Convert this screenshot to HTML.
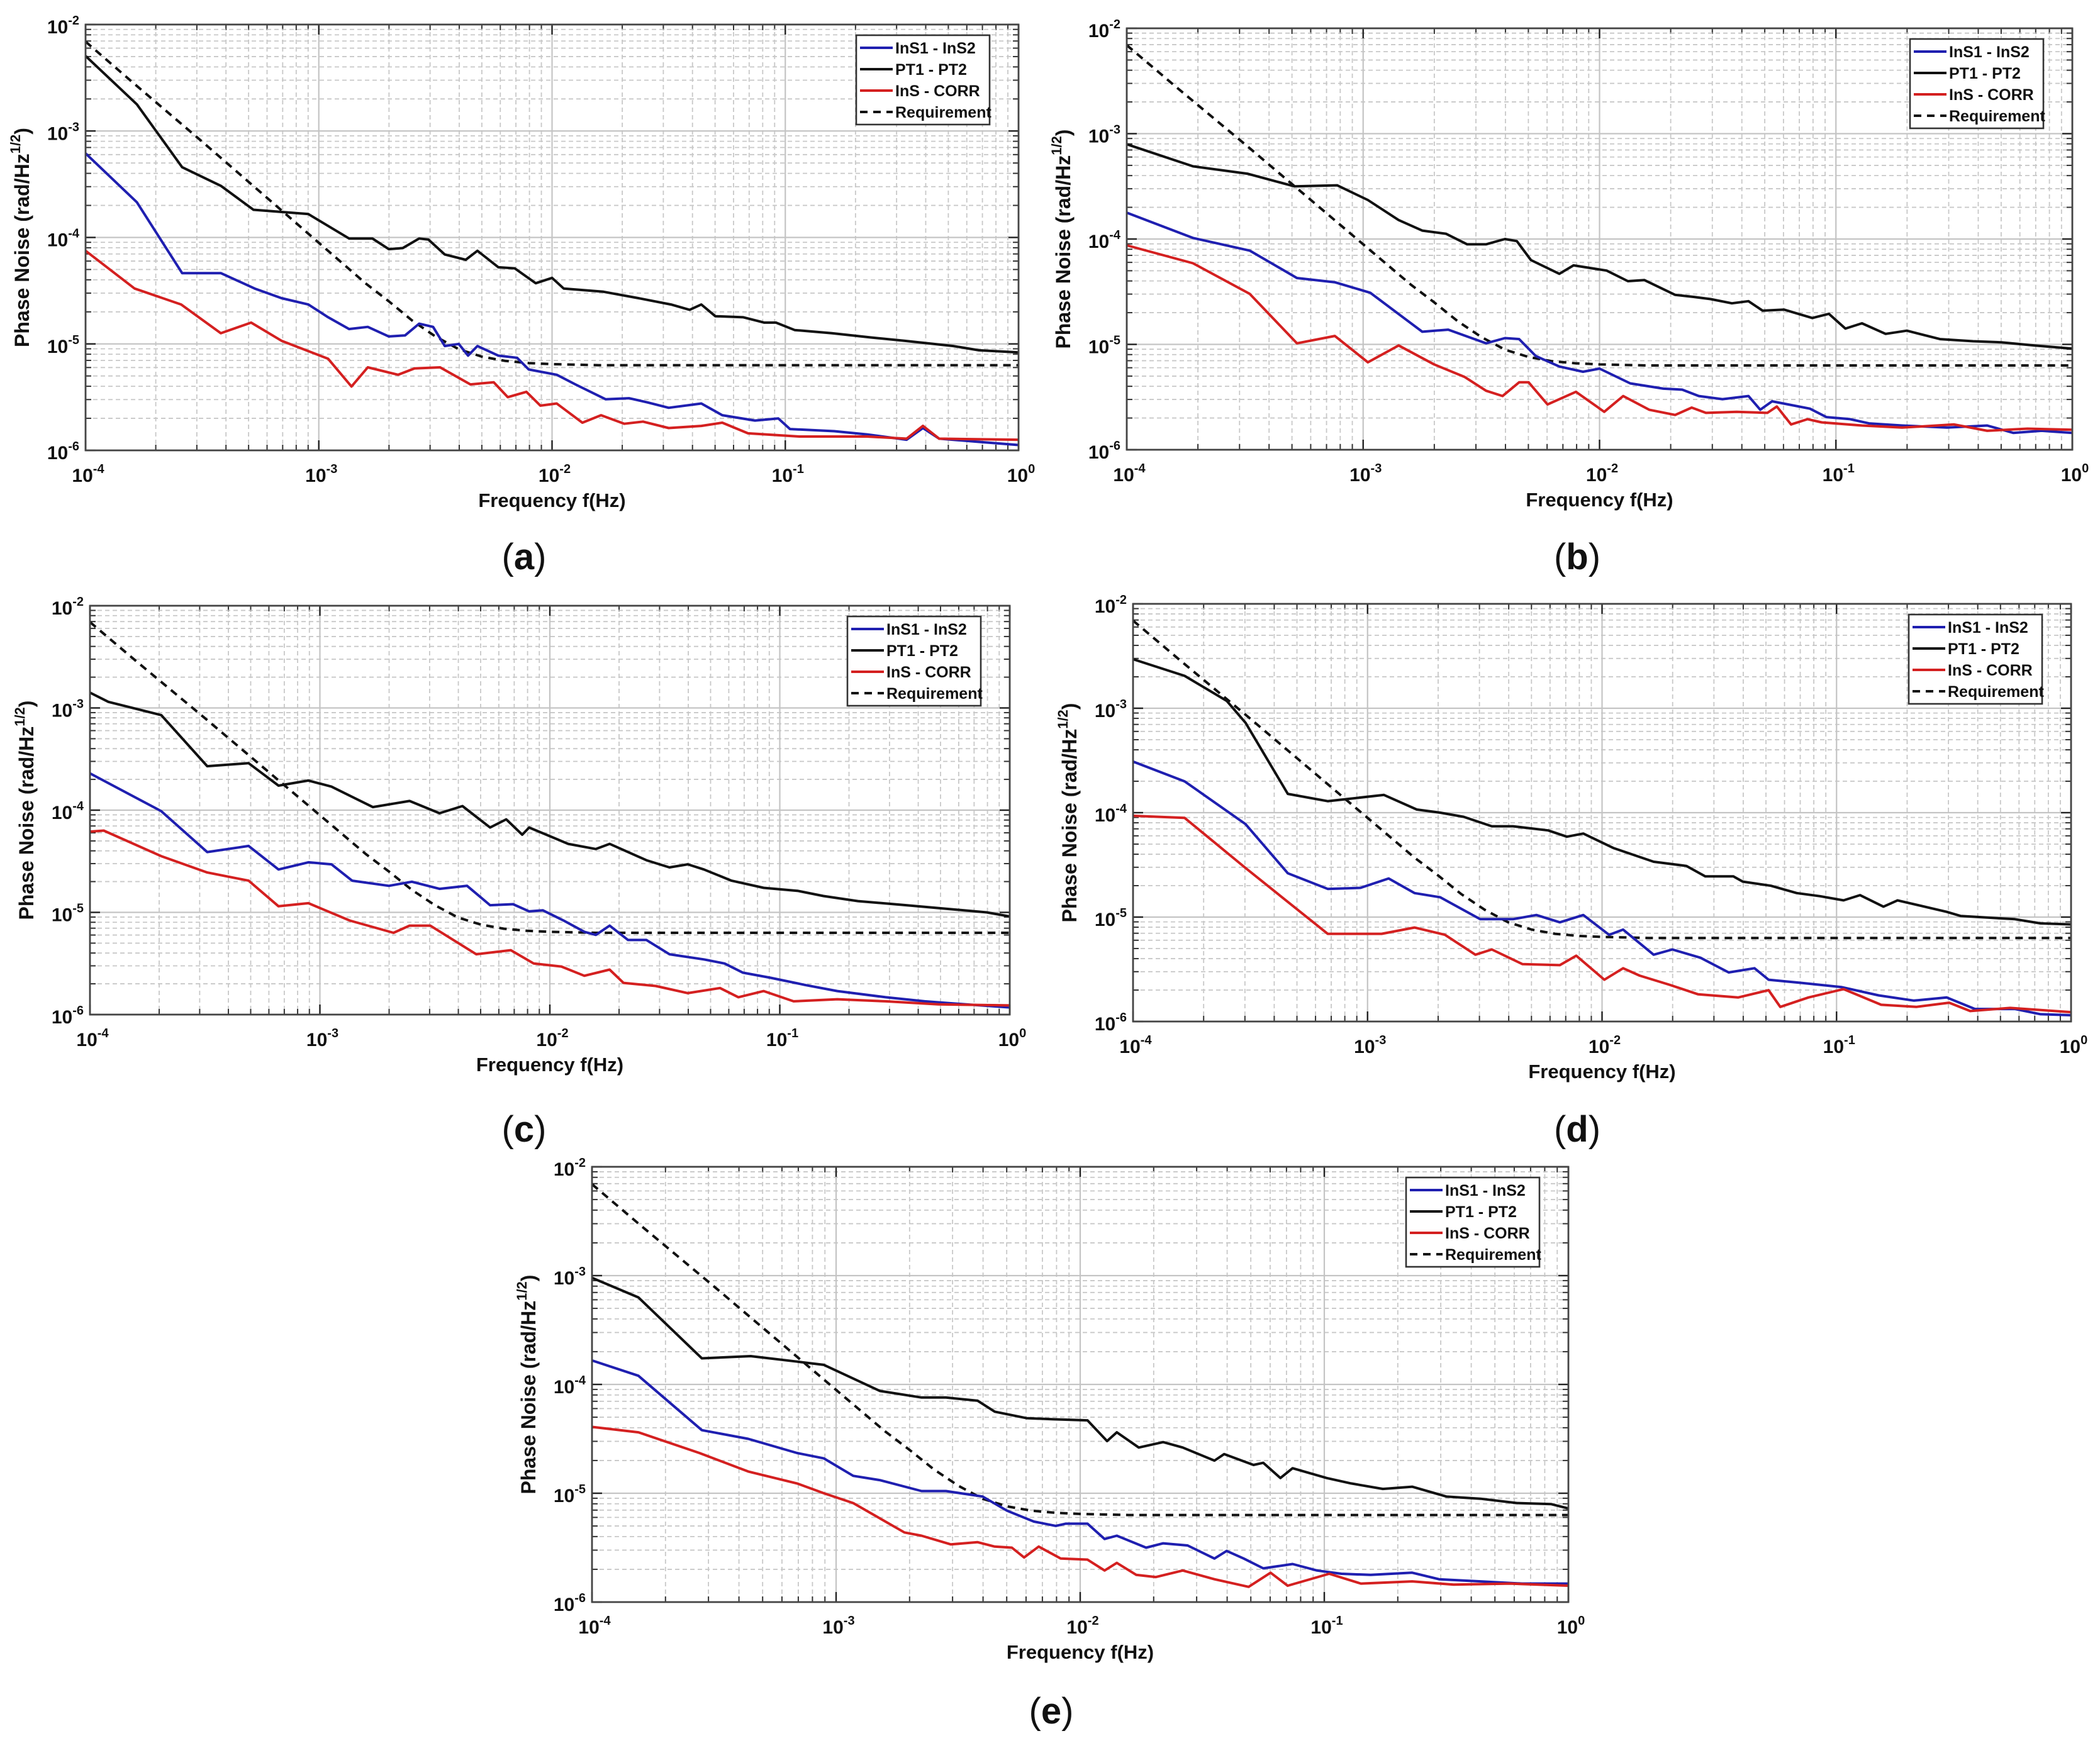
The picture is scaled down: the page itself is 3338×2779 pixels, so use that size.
<!DOCTYPE html>
<html><head><meta charset="utf-8"><style>
html,body{margin:0;padding:0;background:#fff;}
svg{display:block;}
text{font-family:"Liberation Sans",sans-serif;}
</style></head><body>
<svg id="fig" width="3338" height="2779" viewBox="0 0 3338 2779" xmlns="http://www.w3.org/2000/svg"></svg>
<script>
// Values are log10(frequency) and log10(phase noise)
const xTickExps = [-4,-3,-2,-1,0];
const yTickExps = [-6,-5,-4,-3,-2];
const legendLabels = ["InS1 - InS2","PT1 - PT2","InS - CORR","Requirement"];
const reqF = [-4,-3.8,-3.5,-3.2,-3,-2.8,-2.7,-2.6,-2.5,-2.4,-2.3,-2.2,-2.1,-2.0,-1.8,0];
const reqY = [-2.16,-2.54,-3.1,-3.67,-4.05,-4.43,-4.6,-4.78,-4.93,-5.05,-5.12,-5.16,-5.18,-5.19,-5.2,-5.2];

const a_pt_f=[-4,-3.78,-3.586,-3.42,-3.28,-3.045,-2.87,-2.77,-2.70,-2.64,-2.57,-2.53,-2.46,-2.37,-2.32,-2.23,-2.16,-2.07,-2.0,-1.95,-1.78,-1.63,-1.49,-1.41,-1.36,-1.30,-1.18,-1.09,-1.04,-0.96,-0.80,-0.63,-0.49,-0.28,-0.17,0];
const a_pt_y=[-2.295,-2.75,-3.34,-3.515,-3.74,-3.78,-4.01,-4.01,-4.11,-4.10,-4.01,-4.02,-4.16,-4.21,-4.125,-4.28,-4.29,-4.43,-4.38,-4.48,-4.51,-4.57,-4.63,-4.68,-4.63,-4.74,-4.75,-4.80,-4.80,-4.87,-4.9,-4.94,-4.97,-5.02,-5.06,-5.08];
const a_ins_f=[-4,-3.78,-3.586,-3.42,-3.275,-3.16,-3.045,-2.96,-2.87,-2.79,-2.70,-2.63,-2.57,-2.51,-2.46,-2.40,-2.36,-2.32,-2.23,-2.15,-2.1,-1.98,-1.9,-1.77,-1.67,-1.59,-1.5,-1.36,-1.27,-1.13,-1.03,-0.98,-0.79,-0.65,-0.48,-0.41,-0.34,-0.17,0];
const a_ins_y=[-3.21,-3.67,-4.335,-4.335,-4.48,-4.57,-4.63,-4.75,-4.86,-4.84,-4.93,-4.92,-4.81,-4.84,-5.02,-5.0,-5.11,-5.02,-5.11,-5.13,-5.24,-5.29,-5.38,-5.52,-5.51,-5.55,-5.60,-5.56,-5.67,-5.72,-5.70,-5.80,-5.82,-5.85,-5.90,-5.79,-5.89,-5.92,-5.95];
const a_corr_f=[-4,-3.79,-3.59,-3.42,-3.29,-3.16,-2.96,-2.86,-2.79,-2.66,-2.59,-2.48,-2.35,-2.25,-2.19,-2.11,-2.05,-1.98,-1.87,-1.79,-1.69,-1.61,-1.5,-1.36,-1.27,-1.16,-0.94,-0.65,-0.48,-0.41,-0.34,0];
const a_corr_y=[-4.125,-4.48,-4.63,-4.90,-4.80,-4.97,-5.14,-5.40,-5.22,-5.29,-5.23,-5.22,-5.38,-5.36,-5.50,-5.45,-5.58,-5.56,-5.74,-5.67,-5.75,-5.73,-5.79,-5.77,-5.74,-5.84,-5.87,-5.87,-5.89,-5.77,-5.89,-5.90];

const b_pt_f=[-4,-3.72,-3.49,-3.29,-3.11,-2.98,-2.85,-2.75,-2.65,-2.56,-2.48,-2.40,-2.35,-2.29,-2.17,-2.11,-1.97,-1.88,-1.81,-1.68,-1.60,-1.53,-1.44,-1.37,-1.31,-1.22,-1.10,-1.03,-0.96,-0.89,-0.79,-0.70,-0.56,-0.42,-0.30,-0.16,0];
const b_pt_y=[-3.10,-3.31,-3.38,-3.50,-3.49,-3.63,-3.82,-3.92,-3.95,-4.05,-4.05,-4.0,-4.02,-4.2,-4.33,-4.25,-4.30,-4.40,-4.39,-4.53,-4.55,-4.57,-4.61,-4.59,-4.68,-4.67,-4.75,-4.71,-4.85,-4.80,-4.90,-4.87,-4.95,-4.97,-4.98,-5.01,-5.04];
const b_ins_f=[-4,-3.72,-3.48,-3.28,-3.12,-2.97,-2.75,-2.64,-2.48,-2.40,-2.34,-2.27,-2.17,-2.07,-2.0,-1.87,-1.73,-1.65,-1.58,-1.48,-1.37,-1.32,-1.27,-1.11,-1.04,-0.94,-0.86,-0.72,-0.53,-0.36,-0.25,-0.13,0];
const b_ins_y=[-3.75,-3.99,-4.11,-4.37,-4.41,-4.51,-4.88,-4.86,-4.99,-4.94,-4.95,-5.11,-5.21,-5.26,-5.23,-5.37,-5.42,-5.43,-5.49,-5.52,-5.49,-5.62,-5.54,-5.61,-5.69,-5.71,-5.75,-5.77,-5.79,-5.77,-5.84,-5.82,-5.84];
const b_corr_f=[-4,-3.72,-3.48,-3.28,-3.12,-2.98,-2.85,-2.70,-2.57,-2.48,-2.41,-2.34,-2.30,-2.22,-2.10,-1.98,-1.90,-1.79,-1.68,-1.61,-1.55,-1.42,-1.29,-1.25,-1.19,-1.12,-1.06,-0.89,-0.72,-0.50,-0.36,-0.19,0];
const b_corr_y=[-4.06,-4.23,-4.52,-4.99,-4.92,-5.17,-5.01,-5.19,-5.31,-5.44,-5.49,-5.36,-5.36,-5.57,-5.45,-5.64,-5.49,-5.62,-5.67,-5.60,-5.65,-5.64,-5.65,-5.59,-5.76,-5.71,-5.74,-5.77,-5.79,-5.76,-5.82,-5.80,-5.81];

const c_pt_f=[-4,-3.92,-3.69,-3.49,-3.31,-3.18,-3.05,-2.95,-2.77,-2.61,-2.48,-2.38,-2.26,-2.19,-2.12,-2.09,-1.92,-1.80,-1.74,-1.58,-1.48,-1.40,-1.33,-1.21,-1.07,-0.92,-0.81,-0.66,-0.45,-0.25,-0.10,0];
const c_pt_y=[-2.85,-2.94,-3.07,-3.57,-3.54,-3.76,-3.71,-3.77,-3.97,-3.91,-4.03,-3.96,-4.17,-4.09,-4.24,-4.17,-4.33,-4.38,-4.33,-4.49,-4.56,-4.53,-4.58,-4.69,-4.76,-4.79,-4.84,-4.89,-4.93,-4.97,-5.0,-5.04];
const c_ins_f=[-4,-3.69,-3.49,-3.31,-3.18,-3.05,-2.95,-2.86,-2.70,-2.60,-2.48,-2.36,-2.26,-2.16,-2.09,-2.03,-1.94,-1.85,-1.80,-1.74,-1.66,-1.58,-1.48,-1.33,-1.24,-1.16,-1.04,-0.89,-0.75,-0.54,-0.37,-0.19,0];
const c_ins_y=[-3.64,-4.01,-4.41,-4.35,-4.58,-4.51,-4.53,-4.69,-4.74,-4.70,-4.77,-4.74,-4.93,-4.92,-4.99,-4.98,-5.08,-5.19,-5.22,-5.13,-5.27,-5.27,-5.41,-5.46,-5.50,-5.59,-5.64,-5.71,-5.77,-5.83,-5.87,-5.90,-5.93];
const c_corr_f=[-4,-3.94,-3.69,-3.49,-3.31,-3.18,-3.05,-2.87,-2.68,-2.61,-2.52,-2.32,-2.17,-2.07,-1.95,-1.85,-1.74,-1.68,-1.54,-1.40,-1.26,-1.18,-1.07,-0.94,-0.75,-0.54,-0.31,0];
const c_corr_y=[-4.21,-4.20,-4.45,-4.61,-4.69,-4.94,-4.91,-5.08,-5.20,-5.13,-5.13,-5.41,-5.37,-5.50,-5.53,-5.62,-5.56,-5.69,-5.72,-5.79,-5.74,-5.83,-5.77,-5.87,-5.85,-5.87,-5.90,-5.91];

const d_pt_f=[-4,-3.78,-3.60,-3.52,-3.34,-3.17,-2.93,-2.79,-2.69,-2.59,-2.47,-2.38,-2.23,-2.15,-2.08,-1.95,-1.78,-1.64,-1.56,-1.44,-1.40,-1.28,-1.17,-1.07,-0.97,-0.90,-0.80,-0.74,-0.53,-0.47,-0.24,-0.13,0];
const d_pt_y=[-2.53,-2.69,-2.93,-3.14,-3.82,-3.89,-3.83,-3.97,-4.0,-4.04,-4.13,-4.13,-4.17,-4.23,-4.20,-4.34,-4.47,-4.51,-4.61,-4.61,-4.66,-4.70,-4.77,-4.80,-4.84,-4.79,-4.90,-4.84,-4.95,-4.99,-5.02,-5.06,-5.07];
const d_ins_f=[-4,-3.78,-3.52,-3.34,-3.17,-3.03,-2.91,-2.80,-2.69,-2.52,-2.38,-2.28,-2.18,-2.08,-1.97,-1.91,-1.78,-1.70,-1.58,-1.46,-1.35,-1.29,-1.15,-0.98,-0.82,-0.67,-0.53,-0.41,-0.24,-0.13,0];
const d_ins_y=[-3.51,-3.70,-4.11,-4.58,-4.73,-4.72,-4.63,-4.77,-4.81,-5.02,-5.02,-4.98,-5.05,-4.98,-5.17,-5.12,-5.36,-5.31,-5.39,-5.53,-5.49,-5.60,-5.63,-5.67,-5.75,-5.80,-5.77,-5.88,-5.88,-5.93,-5.94];
const d_corr_f=[-4,-3.78,-3.52,-3.17,-2.94,-2.80,-2.67,-2.54,-2.47,-2.34,-2.18,-2.11,-1.99,-1.91,-1.84,-1.71,-1.59,-1.42,-1.29,-1.24,-1.12,-0.97,-0.81,-0.66,-0.52,-0.43,-0.26,0];
const d_corr_y=[-4.03,-4.05,-4.53,-5.16,-5.16,-5.10,-5.17,-5.36,-5.31,-5.45,-5.46,-5.37,-5.60,-5.49,-5.56,-5.65,-5.74,-5.77,-5.70,-5.86,-5.77,-5.69,-5.84,-5.86,-5.82,-5.90,-5.87,-5.91];

const e_pt_f=[-4,-3.81,-3.55,-3.35,-3.16,-3.05,-2.82,-2.65,-2.55,-2.42,-2.35,-2.22,-2.11,-1.97,-1.89,-1.85,-1.76,-1.66,-1.58,-1.45,-1.41,-1.29,-1.25,-1.18,-1.13,-0.99,-0.89,-0.76,-0.64,-0.50,-0.36,-0.21,-0.07,0];
const e_pt_y=[-3.02,-3.20,-3.76,-3.74,-3.79,-3.82,-4.06,-4.12,-4.12,-4.15,-4.25,-4.31,-4.32,-4.33,-4.52,-4.44,-4.58,-4.53,-4.58,-4.70,-4.64,-4.74,-4.72,-4.86,-4.77,-4.86,-4.91,-4.96,-4.94,-5.03,-5.05,-5.09,-5.10,-5.14];
const e_ins_f=[-4,-3.81,-3.55,-3.36,-3.16,-3.05,-2.93,-2.82,-2.65,-2.55,-2.40,-2.30,-2.19,-2.10,-2.06,-1.97,-1.90,-1.85,-1.73,-1.66,-1.56,-1.45,-1.40,-1.33,-1.25,-1.13,-1.03,-0.93,-0.81,-0.64,-0.53,-0.36,-0.19,0];
const e_ins_y=[-3.78,-3.92,-4.42,-4.50,-4.63,-4.68,-4.84,-4.88,-4.98,-4.98,-5.03,-5.16,-5.26,-5.30,-5.28,-5.28,-5.42,-5.39,-5.50,-5.46,-5.48,-5.60,-5.53,-5.60,-5.69,-5.65,-5.71,-5.74,-5.75,-5.73,-5.79,-5.81,-5.83,-5.83];
const e_corr_f=[-4,-3.81,-3.56,-3.36,-3.16,-3.05,-2.93,-2.72,-2.65,-2.53,-2.42,-2.35,-2.28,-2.23,-2.17,-2.08,-1.97,-1.90,-1.85,-1.77,-1.69,-1.58,-1.45,-1.31,-1.22,-1.15,-0.98,-0.85,-0.64,-0.47,-0.24,0];
const e_corr_y=[-4.39,-4.44,-4.63,-4.80,-4.91,-5.0,-5.09,-5.36,-5.39,-5.47,-5.45,-5.49,-5.50,-5.59,-5.49,-5.60,-5.61,-5.71,-5.64,-5.75,-5.77,-5.71,-5.79,-5.86,-5.73,-5.85,-5.74,-5.83,-5.81,-5.84,-5.83,-5.85];

const NS="http://www.w3.org/2000/svg";
const svg=document.getElementById('fig');
function mk(tag,attrs,parent){const e=document.createElementNS(NS,tag);for(const k in attrs)e.setAttribute(k,attrs[k]);(parent||svg).appendChild(e);return e;}

function drawPanel(id,L,T,R,B,data,letter,lx,ly){
  const g=mk('g',{});
  
  
  const X=lf=>L+(lf+4)/4*(R-L);
  const Y=lv=>B-(lv+6)/4*(B-T);
  mk('rect',{x:L,y:T,width:R-L,height:B-T,fill:'#fff'},g);
  const grid=mk('g',{},g);
  
  
  for(let d=-4;d<0;d++){for(let m=2;m<=9;m++){const xx=X(d+Math.log10(m));
    mk('line',{x1:xx,y1:T,x2:xx,y2:B,stroke:'#c8c8c8','stroke-width':1.8,'stroke-dasharray':'7,5'},grid);
    mk('line',{x1:xx,y1:B,x2:xx,y2:B-9,stroke:'#333','stroke-width':2},grid);
    mk('line',{x1:xx,y1:T,x2:xx,y2:T+9,stroke:'#333','stroke-width':2},grid);}}
  for(let d=-6;d<-2;d++){for(let m=2;m<=9;m++){const yy=Y(d+Math.log10(m));
    mk('line',{x1:L,y1:yy,x2:R,y2:yy,stroke:'#c8c8c8','stroke-width':1.8,'stroke-dasharray':'7,5'},grid);
    mk('line',{x1:L,y1:yy,x2:L+9,y2:yy,stroke:'#333','stroke-width':2},grid);
    mk('line',{x1:R,y1:yy,x2:R-9,y2:yy,stroke:'#333','stroke-width':2},grid);}}
  xTickExps.forEach(e=>{const xx=X(e);
    mk('line',{x1:xx,y1:T,x2:xx,y2:B,stroke:'#c4c4c4','stroke-width':2.2},grid);
    mk('line',{x1:xx,y1:B,x2:xx,y2:B-16,stroke:'#222','stroke-width':2.4},grid);
    mk('line',{x1:xx,y1:T,x2:xx,y2:T+16,stroke:'#222','stroke-width':2.4},grid);
    const t=mk('text',{x:xx+4,y:B+50,'text-anchor':'middle','font-size':30,'font-weight':'bold',fill:'#111'},g);
    
    
    t.appendChild(document.createTextNode('10'));
    const s=mk('tspan',{dy:-14,'font-size':20},t); s.textContent=String(e);
  });
  yTickExps.forEach(e=>{const yy=Y(e);
    mk('line',{x1:L,y1:yy,x2:R,y2:yy,stroke:'#c4c4c4','stroke-width':2.2},grid);
    mk('line',{x1:L,y1:yy,x2:L+16,y2:yy,stroke:'#222','stroke-width':2.4},grid);
    mk('line',{x1:R,y1:yy,x2:R-16,y2:yy,stroke:'#222','stroke-width':2.4},grid);
    const t=mk('text',{x:L-10,y:yy+14,'text-anchor':'end','font-size':30,'font-weight':'bold',fill:'#111'},g);
    
    
    t.appendChild(document.createTextNode('10'));
    const s=mk('tspan',{dy:-14,'font-size':20},t); s.textContent=String(e);
  });
  const series=[
    {f:reqF,y:reqY,c:'#111',dash:'12,9',n:'requirement-line'},
    {f:data.ptf,y:data.pty,c:'#111',n:'pt1-pt2-line'},
    {f:data.insf,y:data.insy,c:'#1f1fb0',n:'ins1-ins2-line'},
    {f:data.corrf,y:data.corry,c:'#d42020',n:'ins-corr-line'}];
  series.forEach(s=>{
    const pts=s.f.map((f,i)=>X(f).toFixed(1)+','+Y(s.y[i]).toFixed(1)).join(' ');
    const p=mk('polyline',{points:pts,fill:'none',stroke:s.c,'stroke-width':4,'stroke-linejoin':'round'},g);
    if(s.dash)p.setAttribute('stroke-dasharray',s.dash);
    
    
  });
  mk('rect',{x:L,y:T,width:R-L,height:B-T,fill:'none',stroke:'#444','stroke-width':2.8},g);
  const lw=212,lh=142,lxp=R-lw-46,lyp=T+17;
  const lg=mk('g',{},g);
  
  
  mk('rect',{x:lxp,y:lyp,width:lw,height:lh,fill:'#fff',stroke:'#333','stroke-width':2.6},lg);
  const cols=['#1f1fb0','#111','#d42020','#111'];
  legendLabels.forEach((lab,i)=>{
    const yy=lyp+20+i*34;
    const ln=mk('line',{x1:lxp+6,y1:yy,x2:lxp+58,y2:yy,stroke:cols[i],'stroke-width':4},lg);
    if(i===3)ln.setAttribute('stroke-dasharray','12,9');
    const t=mk('text',{x:lxp+62,y:yy+9,'font-size':25,'font-weight':'bold',fill:'#111'},lg);
    
    
    t.textContent=lab;
  });
  const xl=mk('text',{x:(L+R)/2,y:B+90,'text-anchor':'middle','font-size':31,'font-weight':'bold',fill:'#111'},g);
  
  
  xl.textContent='Frequency f(Hz)';
  const yc=(T+B)/2, yx=L-90;
  const yl=mk('text',{x:yx,y:yc,'text-anchor':'middle','font-size':32,'font-weight':'bold',fill:'#111',transform:'rotate(-90 '+yx+' '+yc+')'},g);
  
  
  yl.appendChild(document.createTextNode('Phase Noise (rad/Hz'));
  const sp=mk('tspan',{dy:-14,'font-size':22},yl); sp.textContent='1/2';
  const sp2=mk('tspan',{dy:14},yl); sp2.textContent=')';
  const lt=mk('text',{x:lx,y:ly,'text-anchor':'middle','font-size':58,fill:'#111','font-family':'Liberation Serif, serif'},g);
  
  
  lt.appendChild(document.createTextNode('('));
  const b=mk('tspan',{'font-weight':'bold'},lt); b.textContent=letter;
  lt.appendChild(document.createTextNode(')'));
}
drawPanel('a',136,39,1619,716,{ptf:a_pt_f,pty:a_pt_y,insf:a_ins_f,insy:a_ins_y,corrf:a_corr_f,corry:a_corr_y},'a',833,905);
drawPanel('b',1791,45,3294,715,{ptf:b_pt_f,pty:b_pt_y,insf:b_ins_f,insy:b_ins_y,corrf:b_corr_f,corry:b_corr_y},'b',2507,905);
drawPanel('c',143,963,1605,1613,{ptf:c_pt_f,pty:c_pt_y,insf:c_ins_f,insy:c_ins_y,corrf:c_corr_f,corry:c_corr_y},'c',833,1815);
drawPanel('d',1801,960,3292,1624,{ptf:d_pt_f,pty:d_pt_y,insf:d_ins_f,insy:d_ins_y,corrf:d_corr_f,corry:d_corr_y},'d',2507,1815);
drawPanel('e',941,1855,2493,2547,{ptf:e_pt_f,pty:e_pt_y,insf:e_ins_f,insy:e_ins_y,corrf:e_corr_f,corry:e_corr_y},'e',1671,2740);
</script>
</body></html>
